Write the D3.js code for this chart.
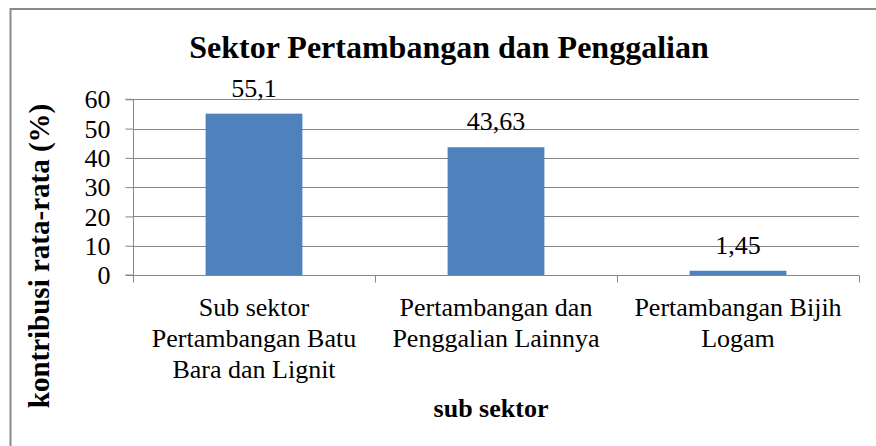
<!DOCTYPE html>
<html>
<head>
<meta charset="utf-8">
<script src="https://cdn.jsdelivr.net/npm/d3@7"></script>
</head>
<body style="margin:0;padding:0;background:#fff">
<script>
const categories = [
  "Sub sektor Pertambangan Batu Bara dan Lignit",
  "Pertambangan dan Penggalian Lainnya",
  "Pertambangan Bijih Logam"
];
const categoryLines = [
  ["Sub sektor", "Pertambangan Batu", "Bara dan Lignit"],
  ["Pertambangan dan", "Penggalian Lainnya"],
  ["Pertambangan Bijih", "Logam"]
];
const values = [55.1, 43.63, 1.45];
const yTicks = [0, 10, 20, 30, 40, 50, 60];
const chartTitle = "Sektor Pertambangan dan Penggalian";
const xTitle = "sub sektor";
const yTitle = "kontribusi rata-rata (%)";

const FONT = "'Liberation Serif', monospace";
const W = 876, H = 446;
const svg = d3.select("body").append("svg").attr("width", W).attr("height", H)
  .style("display", "block");

// outer frame
svg.append("rect")
  .attr("x", 10.5).attr("y", 9).attr("width", 900).attr("height", 500)
  .attr("fill", "none").attr("stroke", "#8a8a8a").attr("stroke-width", 2);

const plot = { left: 133, right: 859, top: 99.3, bottom: 275 };

const x = d3.scaleBand().domain(categories).range([plot.left, plot.right]).padding(0);
const y = d3.scaleLinear().domain([0, 60]).range([plot.bottom, plot.top]);

// gridlines
svg.append("g").selectAll("line").data(yTicks.filter(d => d > 0)).join("line")
  .attr("x1", plot.left).attr("x2", plot.right)
  .attr("y1", d => Math.round(y(d)) + 0.5).attr("y2", d => Math.round(y(d)) + 0.5)
  .attr("stroke", "#868686").attr("stroke-width", 1);

// bars
const barW = x.bandwidth() * 0.4;
svg.append("g").selectAll("rect").data(values).join("rect")
  .attr("x", (d, i) => x(categories[i]) + (x.bandwidth() - barW) / 2)
  .attr("y", d => y(d))
  .attr("width", barW)
  .attr("height", d => y(0) - y(d))
  .attr("fill", "#4f81bd");

// y axis
const yAxis = d3.axisLeft(y).tickValues(yTicks).tickSize(8).tickPadding(15)
  .tickFormat(d => d);
const gy = svg.append("g").attr("transform", `translate(${plot.left + 0.5},0)`).call(yAxis);
gy.selectAll("path").attr("stroke", "#868686").attr("d", `M-8,${y(0)}H0V${y(60)}H-8`);
gy.selectAll("line").attr("stroke", "#868686");
gy.selectAll("text").attr("fill", "#000").attr("dy", "0.33em")
  .attr("font-family", FONT).attr("font-size", 26);

// x axis line and ticks at band boundaries
const xAxisY = Math.round(y(0)) + 0.5;
svg.append("line").attr("x1", plot.left).attr("x2", plot.right)
  .attr("y1", xAxisY).attr("y2", xAxisY).attr("stroke", "#868686");
const bounds = categories.map(c => x(c)).concat([x(categories[categories.length - 1]) + x.bandwidth()]);
svg.append("g").selectAll("line").data(bounds).join("line")
  .attr("x1", d => Math.round(d) + 0.5).attr("x2", d => Math.round(d) + 0.5)
  .attr("y1", xAxisY).attr("y2", xAxisY + 7)
  .attr("stroke", "#868686");

// category labels
categoryLines.forEach((lines, i) => {
  const cx = x(categories[i]) + x.bandwidth() / 2;
  lines.forEach((ln, j) => {
    svg.append("text").attr("x", cx).attr("y", 316 + j * 31)
      .attr("font-family", FONT).attr("font-size", 26)
      .attr("text-anchor", "middle").text(ln);
  });
});

// value labels
svg.append("g").selectAll("text").data(values).join("text")
  .attr("x", (d, i) => x(categories[i]) + x.bandwidth() / 2)
  .attr("y", d => y(d) - 17)
  .attr("font-family", FONT).attr("font-size", 26)
  .attr("text-anchor", "middle")
  .text(d => String(d).replace(".", ","));

// title
svg.append("text").attr("x", 449).attr("y", 58).attr("text-anchor", "middle")
  .attr("font-family", FONT).attr("font-size", 32).attr("font-weight", "bold").text(chartTitle);

// x title
svg.append("text").attr("x", 491).attr("y", 417).attr("text-anchor", "middle")
  .attr("font-family", FONT).attr("font-size", 26).attr("font-weight", "bold").text(xTitle);

// y title
svg.append("text").attr("transform", "translate(49,256) rotate(-90)")
  .attr("text-anchor", "middle")
  .attr("font-family", FONT).attr("font-size", 29).attr("font-weight", "bold").text(yTitle);
</script>
</body>
</html>
